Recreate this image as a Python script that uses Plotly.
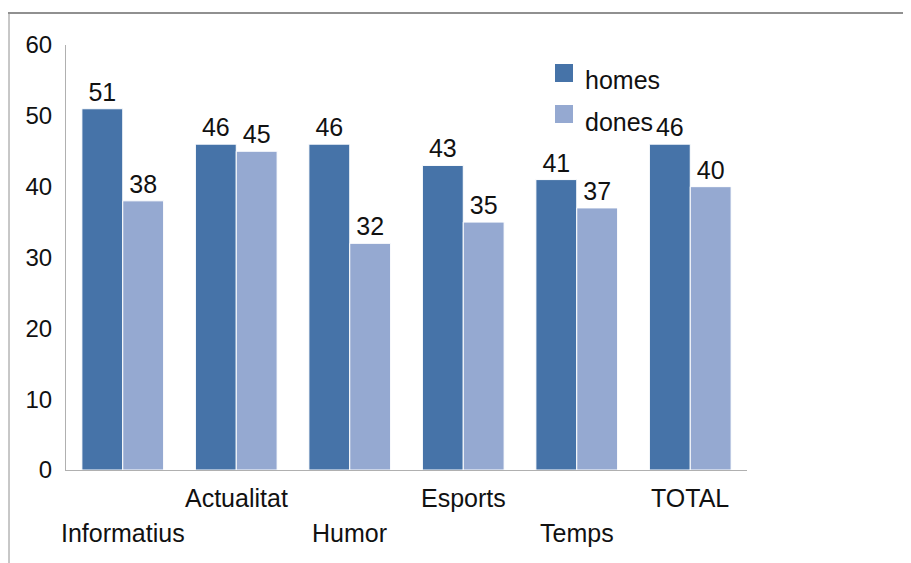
import plotly.graph_objects as go

categories = ["Informatius", "Actualitat", "Humor", "Esports", "Temps", "TOTAL"]
homes = [51, 46, 46, 43, 41, 46]
dones = [38, 45, 32, 35, 37, 40]
series_names = ["homes", "dones"]
y_ticks = [0, 10, 20, 30, 40, 50, 60]

FONT = "Liberation Sans, Arial, sans-serif"
C_HOMES = "#4673A8"
C_DONES = "#95A9D1"
OFF = 8  # page body margin
W, H = 911 - OFF, 563 - OFF
L, T = 66 - OFF, 45 - OFF
PW, PH = 681, 425
R, B = W - L - PW, H - T - PH


def px(x):
    return (x - OFF - L) / PW


def py(y):
    return (T + PH - (y - OFF)) / PH


fig = go.Figure()
for name, vals, col in [(series_names[0], homes, C_HOMES), (series_names[1], dones, C_DONES)]:
    fig.add_trace(go.Bar(
        name=name, x=categories, y=vals,
        marker=dict(color=col, line=dict(color="white", width=1)),
        text=[str(v) for v in vals], textposition="outside",
        textfont=dict(family=FONT, size=25, color="#111111"),
        cliponaxis=False, showlegend=False,
    ))

shapes = [
    dict(type="line", xref="paper", yref="paper", x0=px(5), x1=px(915), y0=py(13), y1=py(13),
         line=dict(color="#909090", width=2)),
    dict(type="line", xref="paper", yref="paper", x0=px(9), x1=px(9), y0=py(13), y1=py(570),
         line=dict(color="#909090", width=1)),
    dict(type="rect", xref="paper", yref="paper", x0=px(555), x1=px(573), y0=py(82), y1=py(64),
         fillcolor=C_HOMES, line=dict(width=0)),
    dict(type="rect", xref="paper", yref="paper", x0=px(555), x1=px(573), y0=py(123), y1=py(105),
         fillcolor=C_DONES, line=dict(width=0)),
]

annotations = [
    dict(text=series_names[0], xref="paper", yref="paper", x=px(583), y=py(80), xanchor="left",
         yanchor="middle", showarrow=False, font=dict(family=FONT, size=25, color="#111111")),
    dict(text=series_names[1], xref="paper", yref="paper", x=px(583), y=py(122), xanchor="left",
         yanchor="middle", showarrow=False, font=dict(family=FONT, size=25, color="#111111")),
]
for i, cat in enumerate(categories):
    yc = 533 if i % 2 == 0 else 498
    annotations.append(dict(text=cat, xref="x", yref="paper", x=cat, y=py(yc), xanchor="center",
                            yanchor="middle", showarrow=False,
                            font=dict(family=FONT, size=25, color="#111111")))

fig.update_layout(
    width=W, height=H,
    margin=dict(l=L, r=R, t=T, b=B, autoexpand=False),
    paper_bgcolor="white", plot_bgcolor="white",
    barmode="group", bargap=0.28, bargroupgap=0,
    font=dict(family=FONT, size=24, color="#111111"),
    shapes=shapes, annotations=annotations,
    xaxis=dict(showticklabels=False, showline=True, linecolor="#b0b0b0", linewidth=1,
               range=[-0.5, len(categories) - 0.5], autorange=False, automargin=False,
               ticks="", showgrid=False, zeroline=False),
    yaxis=dict(range=[0, 60], tickvals=y_ticks, showline=True, linecolor="#b0b0b0", linewidth=1,
               automargin=False,
               ticks="", showgrid=False, zeroline=False, ticklabelstandoff=8,
               tickfont=dict(family=FONT, size=24, color="#111111")),
)

fig.write_html("out.html")
